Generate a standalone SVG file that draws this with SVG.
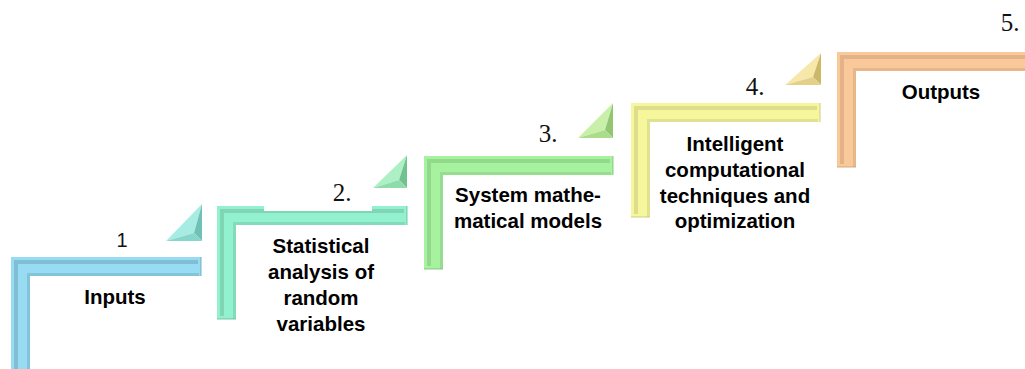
<svg xmlns="http://www.w3.org/2000/svg" width="1025" height="369" viewBox="0 0 1025 369">
<style>
.lbl{font-family:"Liberation Sans",Arial,sans-serif;font-weight:bold;font-size:20.5px;fill:#000;text-anchor:middle}
.num{font-family:"Liberation Serif","Times New Roman",serif;font-size:25px;fill:#111;text-anchor:middle}
.num1{font-family:"Liberation Sans",Arial,sans-serif;font-size:20px;fill:#111;text-anchor:middle}
.band{fill:none;stroke-width:4;stroke-opacity:0.5;stroke-linejoin:miter}
.inner{fill:none;stroke-width:3;stroke-opacity:0.4}
.edge{fill:none;stroke-width:1.2;stroke-opacity:0.7}
.c1 .base{fill:#97dcf2}.c1 .band,.c1 .inner,.c1 .edge{stroke:#6a9fb3}
.c2 .base{fill:#92f2d0}.c2 .band,.c2 .inner,.c2 .edge{stroke:#6bb89c}
.c3 .base{fill:#a6f29e}.c3 .band,.c3 .inner,.c3 .edge{stroke:#7cbf78}
.c4 .base{fill:#f6f79c}.c4 .band,.c4 .inner,.c4 .edge{stroke:#c3c47c}
.c5 .base{fill:#f9c99a}.c5 .band,.c5 .inner,.c5 .edge{stroke:#cf9c76}
</style>
<g id="step1" class="c1">
  <polygon class="base" points="11,257 201,257 201,276 30,276 30,369 11,369"/>
  <polyline class="band" points="16,369 16,262 198,262"/>
  <polyline class="inner" points="28.5,369 28.5,274.5 199,274.5"/>
  <polyline class="edge" points="201,257 201,276"/>
  <text class="num1" x="122" y="247">1</text>
  <text class="lbl" x="115" y="304">Inputs</text>
</g>
<g id="step2" class="c2">
  <polygon class="base" points="217,206 407,206 407,225 236,225 236,319 217,319"/>
  <polyline class="band" points="222,316 222,211 404,211"/>
  <polyline class="inner" points="234.5,319 234.5,223.5 405,223.5"/>
  <polyline class="edge" points="407,206 407,225"/>
  <polyline class="edge" points="217,319 236,319"/>
  <rect x="264" y="182" width="108" height="29" fill="#fff"/>
  <text class="num" x="342" y="201">2.</text>
  <text class="lbl" x="321" y="253">Statistical</text>
  <text class="lbl" x="321" y="279">analysis of</text>
  <text class="lbl" x="321" y="305">random</text>
  <text class="lbl" x="321" y="331">variables</text>
</g>
<g id="step3" class="c3">
  <polygon class="base" points="424,156 613,156 613,175 443,175 443,269 424,269"/>
  <polyline class="band" points="429,266 429,161 610,161"/>
  <polyline class="inner" points="441.5,269 441.5,173.5 611,173.5"/>
  <polyline class="edge" points="613,156 613,175"/>
  <polyline class="edge" points="424,269 443,269"/>
  <text class="num" x="548" y="142">3.</text>
  <text class="lbl" x="528" y="202">System mathe-</text>
  <text class="lbl" x="528" y="228">matical models</text>
</g>
<g id="step4" class="c4">
  <polygon class="base" points="631,103 820,103 820,122 650,122 650,217 631,217"/>
  <polyline class="band" points="636,214 636,108 817,108"/>
  <polyline class="inner" points="648.5,217 648.5,120.5 818,120.5"/>
  <polyline class="edge" points="820,103 820,122"/>
  <polyline class="edge" points="631,217 650,217"/>
  <text class="num" x="755" y="95">4.</text>
  <text class="lbl" x="735" y="151">Intelligent</text>
  <text class="lbl" x="735" y="177">computational</text>
  <text class="lbl" x="735" y="203">techniques and</text>
  <text class="lbl" x="735" y="228">optimization</text>
</g>
<g id="step5" class="c5">
  <polygon class="base" points="837,52 1025,52 1025,71 856,71 856,167 837,167"/>
  <polyline class="band" points="842,164 842,57 1025,57"/>
  <polyline class="inner" points="854.5,167 854.5,69.5 1025,69.5"/>
  <polyline class="edge" points="837,167 856,167"/>
  <text class="num" x="1010" y="31">5.</text>
  <text class="lbl" x="941" y="99">Outputs</text>
</g>
<g id="connectors">
  <g id="arrow1">
    <polygon points="166,241 202,204 194,233" fill="#a6ece2"/>
    <polygon points="202,204 202,241 194,233" fill="#6fc0b6"/>
    <polygon points="202,241 166,241 194,233" fill="#86d6cc"/>
  </g>
  <g id="arrow2">
    <polygon points="373,188 407,155 399,180" fill="#adf0c4"/>
    <polygon points="407,155 407,188 399,180" fill="#72c290"/>
    <polygon points="407,188 373,188 399,180" fill="#8edcab"/>
  </g>
  <g id="arrow3">
    <polygon points="578,138 613,103 605,130" fill="#c8f0a8"/>
    <polygon points="613,103 613,138 605,130" fill="#92c670"/>
    <polygon points="613,138 578,138 605,130" fill="#aadc8c"/>
  </g>
  <g id="arrow4">
    <polygon points="785,85 821,53 813,77" fill="#f6e8a8"/>
    <polygon points="821,53 821,85 813,77" fill="#cdb868"/>
    <polygon points="821,85 785,85 813,77" fill="#e4d088"/>
  </g>
</g>
</svg>
